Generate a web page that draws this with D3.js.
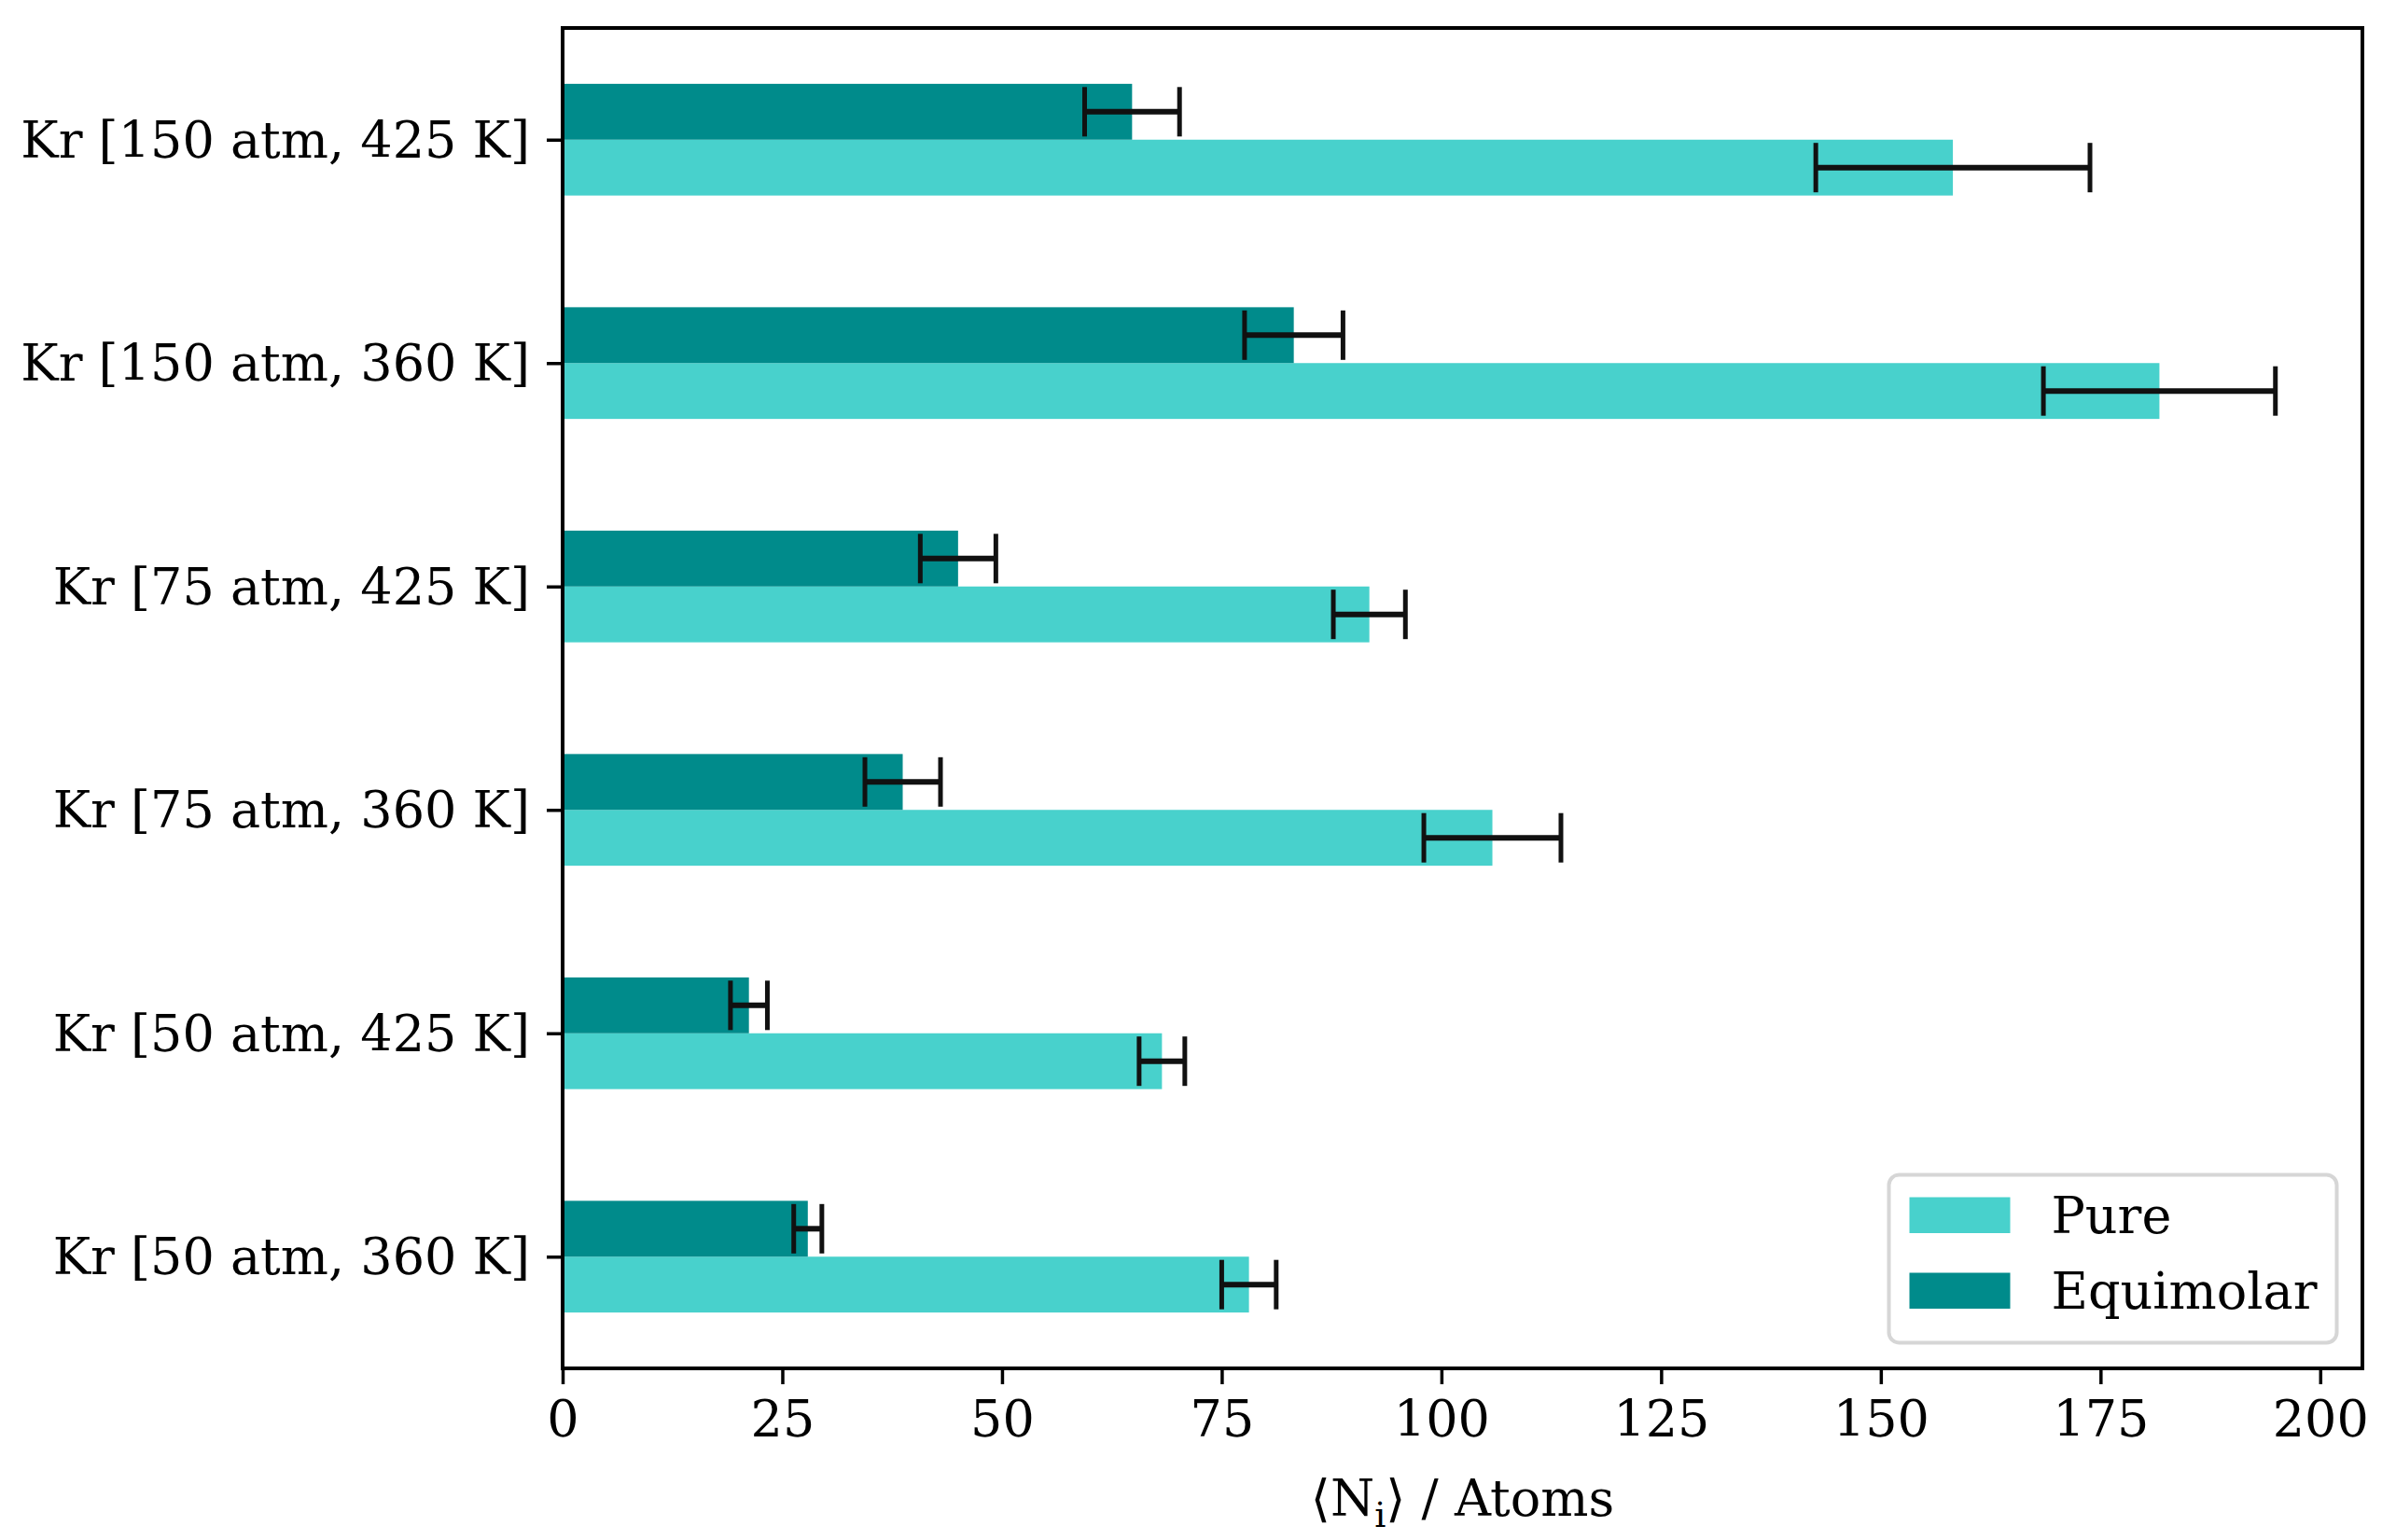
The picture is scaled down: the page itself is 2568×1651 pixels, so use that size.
<!DOCTYPE html>
<html>
<head>
<meta charset="utf-8">
<script src="https://cdn.jsdelivr.net/npm/d3@7"></script>
<style>
  body { margin: 0; background: #fff; }
  text { font-family: "DejaVu Serif", serif; fill: #000; }
</style>
</head>
<body>
<div id="chart"></div>
<script>
// categories listed bottom to top, like matplotlib barh
var categories = ["Kr [50 atm, 360 K]", "Kr [50 atm, 425 K]", "Kr [75 atm, 360 K]",
                  "Kr [75 atm, 425 K]", "Kr [150 atm, 360 K]", "Kr [150 atm, 425 K]"];
var pureVals = [78.1, 68.2, 105.8, 91.8, 181.7, 158.2];
var pureErr  = [3.1, 2.6, 7.8, 4.1, 13.2, 15.6];
var equiVals = [27.9, 21.2, 38.7, 45.0, 83.2, 64.8];
var equiErr  = [1.6, 2.1, 4.3, 4.3, 5.6, 5.4];
var xTicks   = [0, 25, 50, 75, 100, 125, 150, 175, 200];
var seriesNames = ["Pure", "Equimolar"];

var svgWidth = 2568;
var svgHeight = 1651;
var margin = {top: 30, right: 36, bottom: 184, left: 603};
var width = svgWidth - margin.left - margin.right;
var height = svgHeight - margin.top - margin.bottom;

var pureColor = "#48D1CC";
var equiColor = "#008B8B";
var fontSize = 54;
var barH = 0.25;

var svg = d3.select("#chart")
    .append("svg")
    .attr("width", svgWidth)
    .attr("height", svgHeight);

var chart = svg.append("g")
    .attr("transform", `translate(${margin.left}, ${margin.top})`);

var xScale = d3.scaleLinear().domain([0, 204.8]).range([0, width]);
var yScale = d3.scaleLinear().domain([-0.5, 5.5]).range([height, 0]);
var bandPx = yScale(0) - yScale(barH);

var rows = categories.map(function(c, i) {
    return {name: c, i: i, pure: pureVals[i], pureErr: pureErr[i], equi: equiVals[i], equiErr: equiErr[i]};
});

// pure bars (below tick)
chart.selectAll("rect.pure")
    .data(rows)
    .enter()
    .append("rect")
    .attr("class", "pure")
    .attr("x", xScale(0))
    .attr("y", d => yScale(d.i))
    .attr("width", d => xScale(d.pure) - xScale(0))
    .attr("height", bandPx)
    .attr("fill", pureColor);

// equimolar bars (above tick)
chart.selectAll("rect.equi")
    .data(rows)
    .enter()
    .append("rect")
    .attr("class", "equi")
    .attr("x", xScale(0))
    .attr("y", d => yScale(d.i + barH))
    .attr("width", d => xScale(d.equi) - xScale(0))
    .attr("height", bandPx)
    .attr("fill", equiColor);

// error bars
var capHalf = 26.5;
function drawErr(key, errKey, offset) {
    var g = chart.selectAll("g.err-" + key)
        .data(rows)
        .enter()
        .append("g")
        .attr("class", "err-" + key)
        .attr("stroke", "#111");
    g.append("line")
        .attr("stroke-width", 6)
        .attr("x1", d => xScale(d[key] - d[errKey]))
        .attr("x2", d => xScale(d[key] + d[errKey]))
        .attr("y1", d => yScale(d.i + offset))
        .attr("y2", d => yScale(d.i + offset));
    g.append("line")
        .attr("stroke-width", 5)
        .attr("x1", d => xScale(d[key] - d[errKey]))
        .attr("x2", d => xScale(d[key] - d[errKey]))
        .attr("y1", d => yScale(d.i + offset) - capHalf)
        .attr("y2", d => yScale(d.i + offset) + capHalf);
    g.append("line")
        .attr("stroke-width", 5)
        .attr("x1", d => xScale(d[key] + d[errKey]))
        .attr("x2", d => xScale(d[key] + d[errKey]))
        .attr("y1", d => yScale(d.i + offset) - capHalf)
        .attr("y2", d => yScale(d.i + offset) + capHalf);
}
drawErr("pure", "pureErr", -barH / 2);
drawErr("equi", "equiErr", barH / 2);

// axes
var bottomAxis = d3.axisBottom(xScale)
    .tickValues(xTicks)
    .tickFormat(d3.format("d"))
    .tickSize(17)
    .tickPadding(18);
var leftAxis = d3.axisLeft(yScale)
    .tickValues(d3.range(categories.length))
    .tickFormat(i => categories[i])
    .tickSize(17)
    .tickPadding(18);

var xAxis = chart.append("g")
    .attr("transform", `translate(0, ${height})`)
    .call(bottomAxis);
var yAxis = chart.append("g")
    .call(leftAxis);

[xAxis, yAxis].forEach(function(a) {
    a.select(".domain").remove();
    a.selectAll(".tick line").attr("stroke", "#000").attr("stroke-width", 3.5);
    a.selectAll(".tick text")
        .style("font-family", "'DejaVu Serif', serif")
        .style("font-size", fontSize + "px")
        .attr("fill", "#000");
});
yAxis.selectAll(".tick text").attr("dy", "0.34em");

// frame
chart.append("rect")
    .attr("x", 0)
    .attr("y", 0)
    .attr("width", width)
    .attr("height", height)
    .attr("fill", "none")
    .attr("stroke", "#000")
    .attr("stroke-width", 4);

// x label
var xLabel = chart.append("text")
    .attr("x", width / 2)
    .attr("y", height + 158)
    .attr("text-anchor", "middle")
    .style("font-size", fontSize + "px");
xLabel.append("tspan").text("\u27E8N");
xLabel.append("tspan").text("i").attr("dy", 12).style("font-size", "38px");
xLabel.append("tspan").text("\u27E9 / Atoms").attr("dy", -12);

// legend
var legW = 480, legH = 180;
var legend = chart.append("g")
    .attr("transform", `translate(${width - 27.5 - legW}, ${height - 27.5 - legH})`);
legend.append("rect")
    .attr("width", legW)
    .attr("height", legH)
    .attr("rx", 11)
    .attr("fill", "#fff")
    .attr("fill-opacity", 0.8)
    .attr("stroke", "#d6d6d6")
    .attr("stroke-width", 4);

var legItems = legend.selectAll("g.item")
    .data(seriesNames)
    .enter()
    .append("g")
    .attr("class", "item")
    .attr("transform", (d, i) => `translate(22, ${24 + i * 81})`);
legItems.append("rect")
    .attr("width", 108)
    .attr("height", 38.5)
    .attr("fill", (d, i) => i === 0 ? pureColor : equiColor);
legItems.append("text")
    .attr("x", 152)
    .attr("y", 19)
    .attr("dy", "0.36em")
    .style("font-size", fontSize + "px")
    .text(d => d);
</script>
</body>
</html>
